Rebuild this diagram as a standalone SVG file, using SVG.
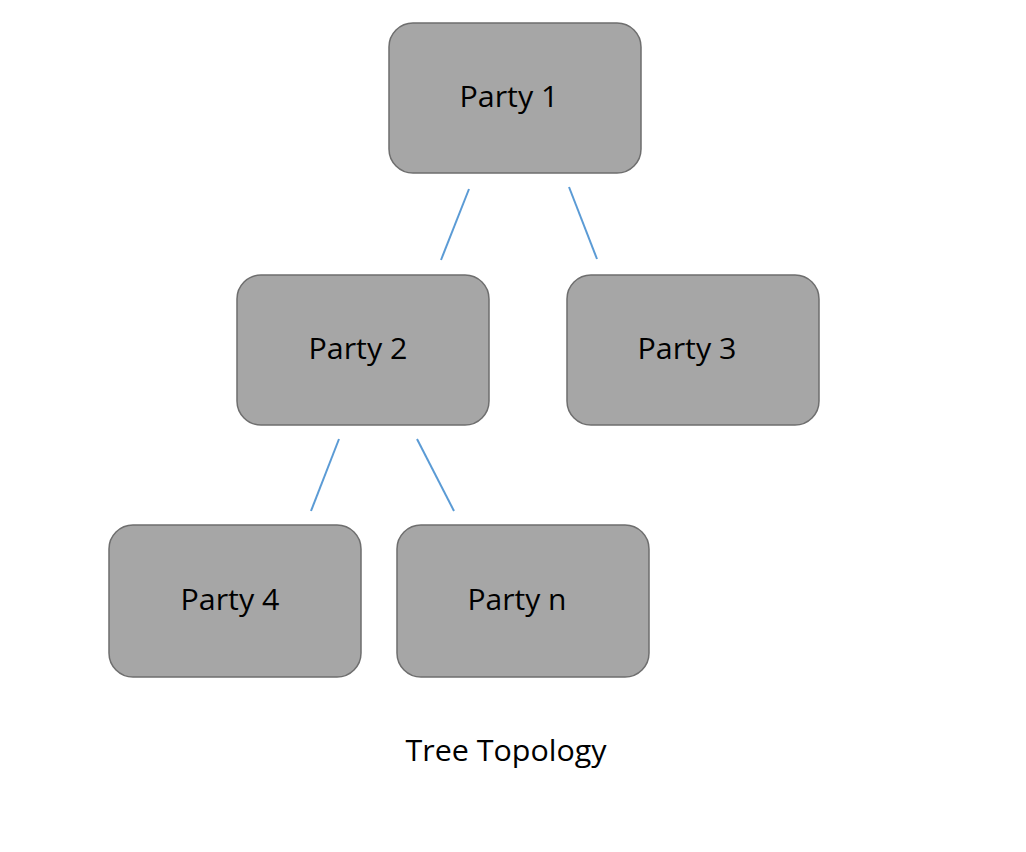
<svg xmlns="http://www.w3.org/2000/svg" width="1026" height="852" viewBox="0 0 1026 852">
<style>
.box{fill:#a6a6a6;stroke:#6e6e6e;stroke-width:1.5}
.lbl{font-family:"Open Sans","Noto Sans",sans-serif;font-size:30px;fill:#000;text-anchor:middle}
.edge{stroke:#5b9bd5;stroke-width:2;fill:none}
</style>
<rect width="1026" height="852" fill="#fff"/>
<g id="connectors">
<line class="edge" x1="469" y1="189" x2="441" y2="260"/>
<line class="edge" x1="569" y1="187" x2="597" y2="259"/>
<line class="edge" x1="339" y1="439" x2="311" y2="511"/>
<line class="edge" x1="417" y1="439" x2="454" y2="511"/>
</g>
<g id="party1"><rect class="box" x="389" y="23" width="252" height="150" rx="24"/><text class="lbl" x="509" y="107" textLength="99" lengthAdjust="spacingAndGlyphs">Party 1</text></g>
<g id="party2"><rect class="box" x="237" y="275" width="252" height="150" rx="24"/><text class="lbl" x="358" y="359" textLength="99" lengthAdjust="spacingAndGlyphs">Party 2</text></g>
<g id="party3"><rect class="box" x="567" y="275" width="252" height="150" rx="24"/><text class="lbl" x="687" y="359" textLength="99" lengthAdjust="spacingAndGlyphs">Party 3</text></g>
<g id="party4"><rect class="box" x="109" y="525" width="252" height="152" rx="24"/><text class="lbl" x="230" y="610" textLength="99" lengthAdjust="spacingAndGlyphs">Party 4</text></g>
<g id="partyn"><rect class="box" x="397" y="525" width="252" height="152" rx="24"/><text class="lbl" x="517" y="610" textLength="99" lengthAdjust="spacingAndGlyphs">Party n</text></g>
<text id="title" class="lbl" x="506" y="761" textLength="201" lengthAdjust="spacingAndGlyphs">Tree Topology</text>
</svg>
